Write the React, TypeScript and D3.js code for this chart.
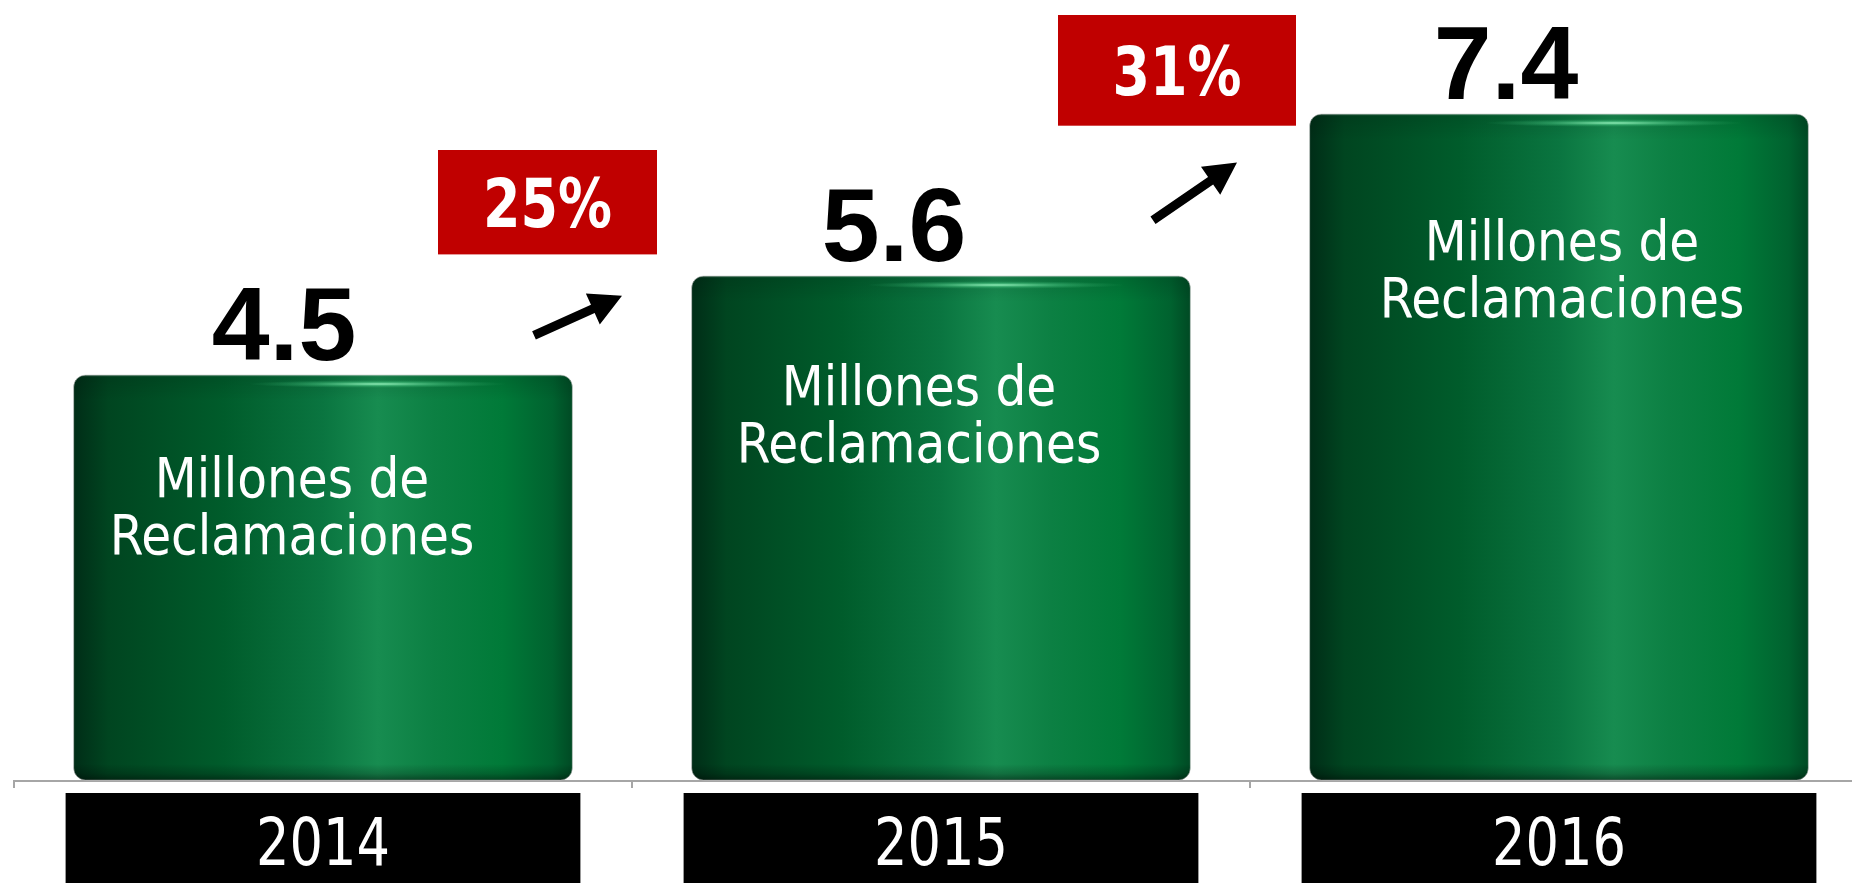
import { useRef, useEffect } from "react";
import * as d3 from "d3";

const years = ["2014", "2015", "2016"];
const claims = [4.5, 5.6, 7.4];
const growth = ["25%", "31%"];
const barText = ["Millones de", "Reclamaciones"];

const WIDTH = 1852;
const HEIGHT = 883;

const COLORS = {
  axis: "#a6a6a6",
  label: "#000000",
  inner: "#ffffff",
  callout: "#c00000",
  yearBox: "#000000",
};

const NARROW = "'Liberation Sans Narrow', 'DejaVu Sans Condensed', 'Liberation Sans', sans-serif";
const SANS = "'Liberation Sans', Arial, sans-serif";

// hand nudges from the original slide (px)
const VALUE_DX = [-39, -47, -53];
const INNER_DX = [-31, -22, 3];
const INNER_DY = [122, 129, 146];

// callouts between bars: x offsets from the next band start (px), y in data units
const CALLOUTS = [
  { box: { x0: -194, x1: 25, top: 7.0, bottom: 5.84 }, arrow: { x0: -98, v0: 4.94, x1: -10, v1: 5.38 } },
  { box: { x0: -192, x1: 46, top: 8.5, bottom: 7.27 }, arrow: { x0: -97, v0: 6.22, x1: -13, v1: 6.86 } },
];

export default function App() {
  const svgRef = useRef<SVGSVGElement>(null);

  useEffect(() => {
    if (!svgRef.current) return;
    const svg = d3.select(svgRef.current);
    svg.selectAll("*").remove();

    const baseY = 780;
    const x = d3.scaleBand<string>().domain(years).range([14, 14 + 618 * 3]).padding(0);
    const y = d3.scaleLinear().domain([0, 8]).range([baseY, 60]);
    const bw = x.bandwidth();
    const barW = bw * 0.807;
    const boxW = bw * 0.833;
    const cx = (d: string) => (x(d) ?? 0) + bw / 2;

    const defs = svg.append("defs");

    const body = defs
      .append("linearGradient")
      .attr("id", "bar-body")
      .attr("x1", "0%")
      .attr("x2", "100%")
      .attr("y1", "0%")
      .attr("y2", "0%");
    [
      [0, "#002d17"],
      [0.07, "#004520"],
      [0.3, "#005c2b"],
      [0.5, "#0a7540"],
      [0.61, "#178c50"],
      [0.72, "#0c8043"],
      [0.86, "#007a38"],
      [0.96, "#00622f"],
      [1, "#004a24"],
    ].forEach(([o, c]) => body.append("stop").attr("offset", o as number).attr("stop-color", c as string));

    const top = defs
      .append("linearGradient")
      .attr("id", "bar-top")
      .attr("x1", "0%")
      .attr("x2", "0%")
      .attr("y1", "0%")
      .attr("y2", "100%");
    top.append("stop").attr("offset", 0).attr("stop-color", "#ffffff").attr("stop-opacity", 0.35);
    top.append("stop").attr("offset", 0.08).attr("stop-color", "#000000").attr("stop-opacity", 0.12);
    top.append("stop").attr("offset", 1).attr("stop-color", "#000000").attr("stop-opacity", 0);

    const bottom = defs
      .append("linearGradient")
      .attr("id", "bar-bottom")
      .attr("x1", "0%")
      .attr("x2", "0%")
      .attr("y1", "0%")
      .attr("y2", "100%");
    bottom.append("stop").attr("offset", 0).attr("stop-color", "#000000").attr("stop-opacity", 0);
    bottom.append("stop").attr("offset", 0.6).attr("stop-color", "#000000").attr("stop-opacity", 0.2);
    bottom.append("stop").attr("offset", 1).attr("stop-color", "#000000").attr("stop-opacity", 0.45);

    const glow = defs.append("radialGradient").attr("id", "bar-glow");
    glow.append("stop").attr("offset", 0).attr("stop-color", "#9af5c0").attr("stop-opacity", 0.95);
    glow.append("stop").attr("offset", 0.5).attr("stop-color", "#4cc985").attr("stop-opacity", 0.45);
    glow.append("stop").attr("offset", 1).attr("stop-color", "#2fa866").attr("stop-opacity", 0);

    // Axis
    svg
      .append("line")
      .attr("x1", 14)
      .attr("x2", WIDTH)
      .attr("y1", baseY + 1)
      .attr("y2", baseY + 1)
      .attr("stroke", COLORS.axis)
      .attr("stroke-width", 2);
    svg
      .append("g")
      .selectAll("line")
      .data(years)
      .enter()
      .append("line")
      .attr("x1", (d) => x(d) ?? 0)
      .attr("x2", (d) => x(d) ?? 0)
      .attr("y1", baseY)
      .attr("y2", baseY + 8)
      .attr("stroke", COLORS.axis)
      .attr("stroke-width", 2);

    // Bars
    const bars = svg
      .append("g")
      .selectAll("g")
      .data(years)
      .enter()
      .append("g");

    bars.each(function (d, i) {
      const g = d3.select(this);
      const x0 = cx(d) - barW / 2;
      const y0 = y(claims[i]);
      const h = baseY - y0;
      const clipId = `bar-clip-${i}`;
      defs
        .append("clipPath")
        .attr("id", clipId)
        .append("rect")
        .attr("x", x0)
        .attr("y", y0)
        .attr("width", barW)
        .attr("height", h)
        .attr("rx", 12);

      g.append("rect")
        .attr("x", x0)
        .attr("y", y0)
        .attr("width", barW)
        .attr("height", h)
        .attr("rx", 12)
        .attr("fill", "url(#bar-body)")
        .attr("stroke", "#c8c8c8")
        .attr("stroke-opacity", 0.6)
        .attr("stroke-width", 1);

      const inner = g.append("g").attr("clip-path", `url(#${clipId})`);
      inner
        .append("rect")
        .attr("x", x0)
        .attr("y", y0)
        .attr("width", barW)
        .attr("height", 26)
        .attr("fill", "url(#bar-top)");
      inner
        .append("rect")
        .attr("x", x0)
        .attr("y", baseY - 16)
        .attr("width", barW)
        .attr("height", 16)
        .attr("fill", "url(#bar-bottom)");
      inner
        .append("ellipse")
        .attr("cx", x0 + barW * 0.61)
        .attr("cy", y0 + 9)
        .attr("rx", barW * 0.26)
        .attr("ry", 4)
        .attr("fill", "url(#bar-glow)");

      // inner label (condensed a little to match the slide font)
      const t = g
        .append("g")
        .attr("transform", `translate(${cx(d) + INNER_DX[i]},${y0 + INNER_DY[i]}) scale(0.965,1)`)
        .append("text")
        .attr("text-anchor", "middle")
        .attr("fill", COLORS.inner)
        .attr("font-family", NARROW)
        .attr("font-size", "56px");
      barText.forEach((line, j) => {
        t.append("tspan")
          .attr("x", 0)
          .attr("y", j * 57)
          .text(line);
      });

      // value label
      g.append("text")
        .attr("x", cx(d) + VALUE_DX[i])
        .attr("y", y0 - 15)
        .attr("text-anchor", "middle")
        .attr("fill", COLORS.label)
        .attr("font-family", SANS)
        .attr("font-weight", "bold")
        .attr("font-size", "104px")
        .text(String(claims[i]));
    });

    // Year boxes
    const yearG = svg.append("g");
    yearG
      .selectAll("rect")
      .data(years)
      .enter()
      .append("rect")
      .attr("x", (d) => cx(d) - boxW / 2)
      .attr("y", 793)
      .attr("width", boxW)
      .attr("height", HEIGHT - 793 + 10)
      .attr("fill", COLORS.yearBox);
    yearG
      .selectAll("g")
      .data(years)
      .enter()
      .append("g")
      .attr("transform", (d) => `translate(${cx(d)},865) scale(0.9,1)`)
      .append("text")
      .attr("text-anchor", "middle")
      .attr("fill", "#ffffff")
      .attr("font-family", NARROW)
      .attr("font-size", "65px")
      .text((d) => d);

    // Growth callouts
    CALLOUTS.forEach((c, i) => {
      const start = x(years[i + 1]) ?? 0;
      const bx0 = start + c.box.x0;
      const bx1 = start + c.box.x1;
      const by0 = y(c.box.top);
      const by1 = y(c.box.bottom);
      svg
        .append("rect")
        .attr("x", bx0)
        .attr("y", by0)
        .attr("width", bx1 - bx0)
        .attr("height", by1 - by0)
        .attr("fill", COLORS.callout);
      svg
        .append("g")
        .attr("transform", `translate(${(bx0 + bx1) / 2},${(by0 + by1) / 2}) scale(0.88,1)`)
        .append("text")
        .attr("dy", "0.36em")
        .attr("text-anchor", "middle")
        .attr("fill", "#ffffff")
        .attr("font-family", NARROW)
        .attr("font-weight", "bold")
        .attr("font-size", "68px")
        .text(growth[i]);

      // arrow
      const tx = start + c.arrow.x0;
      const ty = y(c.arrow.v0);
      const px = start + c.arrow.x1;
      const py = y(c.arrow.v1);
      const len = Math.hypot(px - tx, py - ty);
      const ux = (px - tx) / len;
      const uy = (py - ty) / len;
      const nx = -uy;
      const ny = ux;
      const head = 32;
      const sw = 4.5;
      const hw = 17;
      const bxp = px - ux * head;
      const byp = py - uy * head;
      const pts: [number, number][] = [
        [tx + nx * sw, ty + ny * sw],
        [bxp + nx * sw, byp + ny * sw],
        [bxp + nx * hw, byp + ny * hw],
        [px, py],
        [bxp - nx * hw, byp - ny * hw],
        [bxp - nx * sw, byp - ny * sw],
        [tx - nx * sw, ty - ny * sw],
      ];
      svg
        .append("path")
        .attr("d", d3.line()(pts) + "Z")
        .attr("fill", "#000000");
    });
  }, []);

  return (
    <svg
      ref={svgRef}
      width={WIDTH}
      height={HEIGHT}
      viewBox={`0 0 ${WIDTH} ${HEIGHT}`}
      style={{ position: "absolute", left: 0, top: 0, background: "#ffffff" }}
    />
  );
}
